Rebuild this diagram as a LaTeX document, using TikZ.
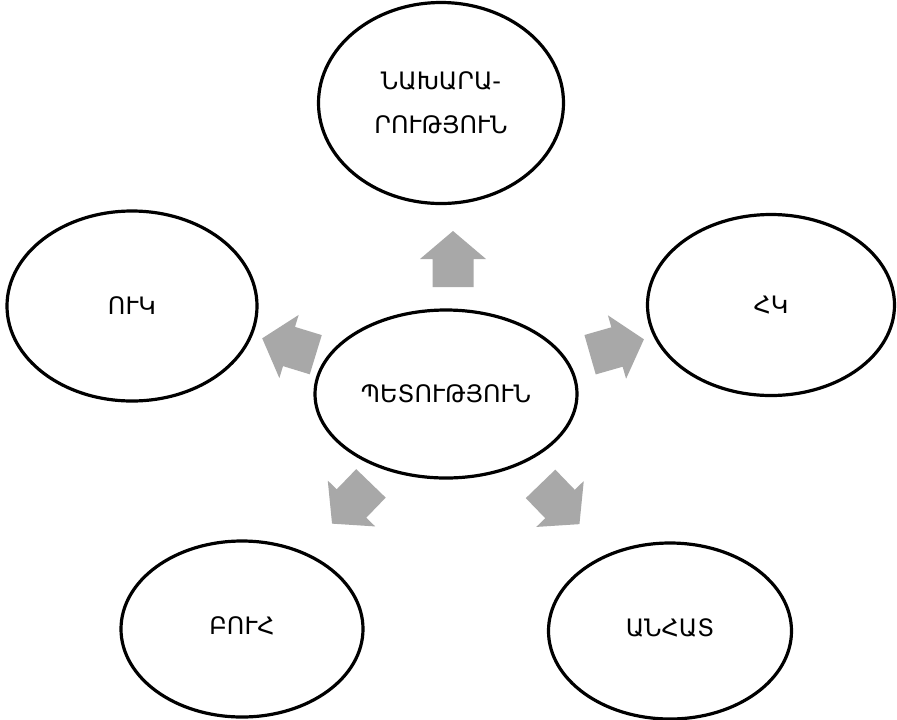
\documentclass[tikz,border=0pt]{standalone}
\usepackage{fontspec}
\newfontfamily\armfont[Script=Armenian]{DejaVu Sans}
\usetikzlibrary{shapes.geometric}
\definecolor{arrowgray}{RGB}{168,168,168}
\tikzset{
  bubble/.style={ellipse, draw=black, line width=2.4pt, inner sep=0pt, align=center,
    font=\armfont\fontsize{18}{33}\selectfont},
  blockarrow/.pic={\fill[arrowgray] (-28,20.5) -- (0,20.5) -- (0,33) -- (28,0) -- (0,-33) -- (0,-20.5) -- (-28,-20.5) -- cycle;}
}
\begin{document}
\begin{tikzpicture}[x=0.75pt,y=-0.75pt]
\useasboundingbox[fill=white] (0,0) rectangle (897,719);
\node[bubble, minimum width=183.75pt, minimum height=150.75pt] (top) at (441,103) {ՆԱԽԱՐԱ-\\ՐՈՒԹՅՈՒՆ};
\node[bubble, minimum width=187.5pt, minimum height=142.5pt] (left) at (132,306) {ՈՒԿ};
\node[bubble, minimum width=185.25pt, minimum height=135.75pt] (right) at (771,305) {ՀԿ};
\node[bubble, minimum width=196.5pt, minimum height=126pt] (center) at (446,394) {ՊԵՏՈՒԹՅՈՒՆ};
\node[bubble, minimum width=181.5pt, minimum height=132pt] (bl) at (242,629) {\raisebox{5pt}{ԲՈՒՀ}};
\node[bubble, minimum width=182.25pt, minimum height=132pt] (br) at (670,631) {\raisebox{5pt}{ԱՆՀԱՏ}};
\pic[rotate=90] at (453,259) {blockarrow};
\pic[rotate=16] at (617,347) {blockarrow};
\pic[rotate=163] at (289,346.5) {blockarrow};
\pic[rotate=-134] at (351.5,503.5) {blockarrow};
\pic[rotate=-46] at (560,504) {blockarrow};
\end{tikzpicture}
\end{document}
